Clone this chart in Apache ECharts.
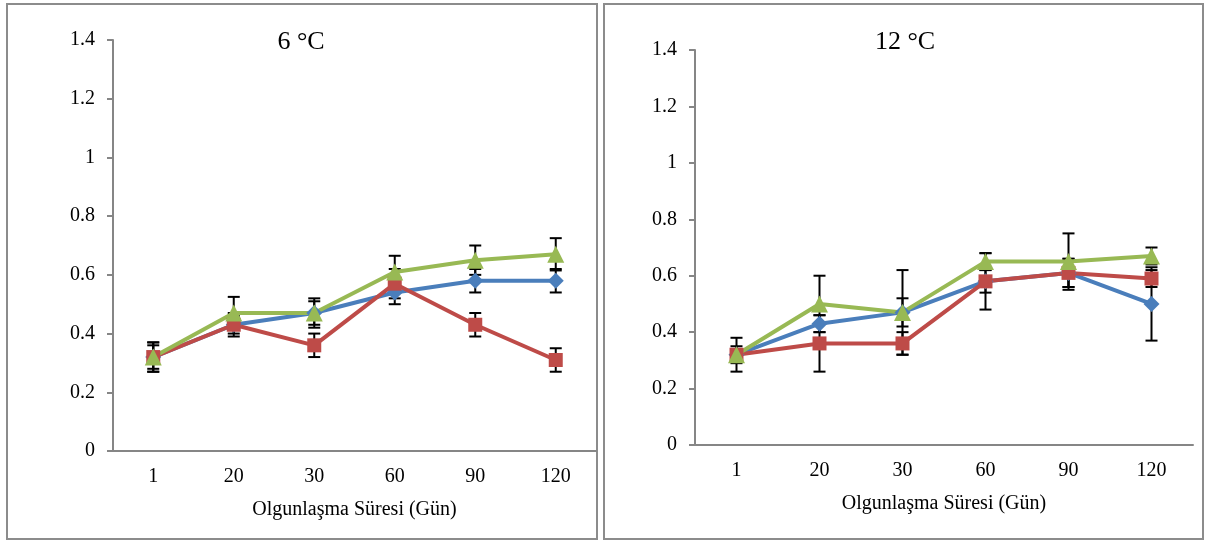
<!DOCTYPE html>
<html>
<head>
<meta charset="utf-8">
<script src="https://cdn.jsdelivr.net/npm/echarts@6/dist/echarts.min.js"></script>
<style>
  html, body { margin: 0; padding: 0; background: #fff; }
  #chart { width: 1205px; height: 540px; }
</style>
</head>
<body>
<div id="chart"></div>
<script>
var days = ['1', '20', '30', '60', '90', '120'];
var axisName = 'Olgunlaşma Süresi (Gün)';
var titles = ['6 °C', '12 °C'];

// 6 °C
var blue6 = [0.32, 0.43, 0.47, 0.54, 0.58, 0.58];
var blue6Err = [0.04, 0.03, 0.04, 0.04, 0.04, 0.04];
var red6 = [0.32, 0.43, 0.36, 0.57, 0.43, 0.31];
var red6Err = [0.05, 0.04, 0.04, 0.05, 0.04, 0.04];
var green6 = [0.32, 0.47, 0.47, 0.61, 0.65, 0.67];
var green6Err = [0.05, 0.055, 0.05, 0.055, 0.05, 0.055];

// 12 °C
var blue12 = [0.32, 0.43, 0.47, 0.58, 0.61, 0.50];
var blue12Err = [0.06, 0.03, 0.05, 0.04, 0.05, 0.13];
var red12 = [0.32, 0.36, 0.36, 0.58, 0.61, 0.59];
var red12Err = [0.02, 0.10, 0.04, 0.10, 0.05, 0.03];
var green12 = [0.32, 0.50, 0.47, 0.65, 0.65, 0.67];
var green12Err = [0.03, 0.10, 0.15, 0.03, 0.10, 0.03];

var colors = { blue: '#4a7ebb', red: '#be4b48', green: '#98b954' };
var font = '"Liberation Serif", "DejaVu Serif", serif';
var axisGray = '#868686';

var chart = echarts.init(document.getElementById('chart'));

function errData(vals, errs) {
    return vals.map(function (v, i) { return [i, v - errs[i], v + errs[i]]; });
}

function errSeries(idx, vals, errs) {
    return {
        type: 'custom',
        xAxisIndex: idx,
        yAxisIndex: idx,
        z: 1,
        silent: true,
        data: errData(vals, errs),
        renderItem: function (params, api) {
            var lo = api.coord([api.value(0), api.value(1)]);
            var hi = api.coord([api.value(0), api.value(2)]);
            var w = 6;
            var style = { stroke: '#000', lineWidth: 2 };
            return {
                type: 'group',
                children: [
                    { type: 'line', shape: { x1: hi[0], y1: hi[1], x2: lo[0], y2: lo[1] }, style: style },
                    { type: 'line', shape: { x1: hi[0] - w, y1: hi[1], x2: hi[0] + w, y2: hi[1] }, style: style },
                    { type: 'line', shape: { x1: lo[0] - w, y1: lo[1], x2: lo[0] + w, y2: lo[1] }, style: style }
                ]
            };
        }
    };
}

function lineSeries(idx, vals, color, symbol, size) {
    return {
        type: 'line',
        xAxisIndex: idx,
        yAxisIndex: idx,
        z: 3,
        data: vals,
        symbol: symbol,
        symbolSize: size,
        lineStyle: { color: color, width: 4 },
        itemStyle: { color: color },
        animation: false
    };
}

function xAxis(idx) {
    return {
        type: 'category',
        gridIndex: idx,
        data: days,
        boundaryGap: true,
        axisLine: { lineStyle: { color: axisGray, width: 2 } },
        axisTick: { show: false },
        axisLabel: { color: '#000', fontFamily: font, fontSize: 20, margin: 16 },
        name: axisName,
        nameLocation: 'middle',
        nameGap: 49,
        nameTextStyle: { color: '#000', fontFamily: font, fontSize: 20 }
    };
}

function yAxis(idx) {
    return {
        type: 'value',
        gridIndex: idx,
        min: 0,
        max: 1.4,
        interval: 0.2,
        axisLine: { show: true, lineStyle: { color: axisGray, width: 2 } },
        axisTick: { show: true, length: 6, lineStyle: { color: axisGray, width: 2 } },
        splitLine: { show: false },
        axisLabel: { color: '#000', fontFamily: font, fontSize: 20, margin: 18 }
    };
}

var option = {
    animation: false,
    backgroundColor: '#fff',
    grid: [
        { left: 113, top: 40, width: 483, height: 411 },
        { left: 695, top: 50, width: 498, height: 395 }
    ],
    xAxis: [xAxis(0), xAxis(1)],
    yAxis: [yAxis(0), yAxis(1)],
    graphic: [
        { type: 'rect', shape: { x: 7, y: 4, width: 590, height: 535 }, style: { fill: 'none', stroke: '#8c8c8c', lineWidth: 2 }, z: -1 },
        { type: 'rect', shape: { x: 604, y: 4, width: 599, height: 535 }, style: { fill: 'none', stroke: '#8c8c8c', lineWidth: 2 }, z: -1 },
        { type: 'text', x: 301, y: 42, style: { text: titles[0], font: '26px ' + font, fill: '#000', textAlign: 'center', textVerticalAlign: 'middle' } },
        { type: 'text', x: 905, y: 42, style: { text: titles[1], font: '26px ' + font, fill: '#000', textAlign: 'center', textVerticalAlign: 'middle' } }
    ],
    series: [
        errSeries(0, blue6, blue6Err),
        errSeries(0, red6, red6Err),
        errSeries(0, green6, green6Err),
        lineSeries(0, blue6, colors.blue, 'diamond', 16),
        lineSeries(0, red6, colors.red, 'rect', 14),
        lineSeries(0, green6, colors.green, 'triangle', 17),
        errSeries(1, blue12, blue12Err),
        errSeries(1, red12, red12Err),
        errSeries(1, green12, green12Err),
        lineSeries(1, blue12, colors.blue, 'diamond', 16),
        lineSeries(1, red12, colors.red, 'rect', 14),
        lineSeries(1, green12, colors.green, 'triangle', 17)
    ]
};

chart.setOption(option);
</script>
</body>
</html>
